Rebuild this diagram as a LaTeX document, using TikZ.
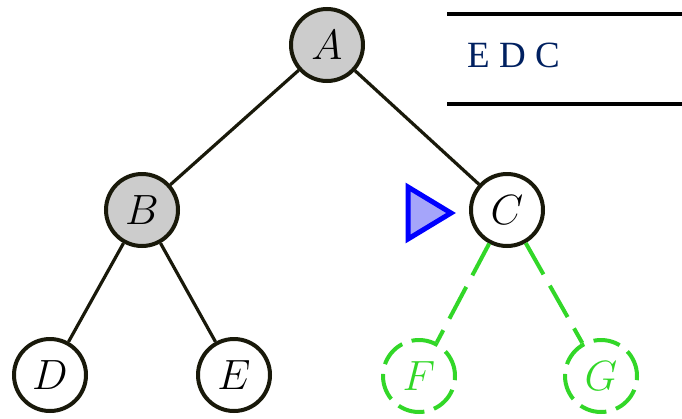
\documentclass[tikz,border=0pt]{standalone}
\usepackage{graphicx}
\usepackage{fontspec}
\newfontfamily\stackfont{Liberation Serif}
\usetikzlibrary{positioning}
\definecolor{navy}{RGB}{0,32,96}
\definecolor{lime}{RGB}{50,215,40}
\definecolor{trifill}{RGB}{165,165,250}
\definecolor{ink}{RGB}{25,25,10}
\newcommand{\vlabel}[1]{\scalebox{1.7}{$#1$}}

\begin{document}
\begin{tikzpicture}[x=1pt,y=-1pt,
    vertex/.style={circle,draw=ink,line width=4pt,minimum size=72pt,inner sep=0pt,font=\Huge},
    visited/.style={vertex,fill=gray!40},
    pending/.style={vertex,draw=lime,text=lime,dash pattern=on 27pt off 10pt},
    edge/.style={draw=ink,line width=3.2pt},
    newedge/.style={draw=lime,line width=4pt,dash pattern=on 36pt off 13pt}]
    \useasboundingbox (0,0) rectangle (682,418);
	  % tree
	  \node[visited] (A) at (327,45) {\vlabel{A}};
	  \node[visited] (B) at (142,210) {\vlabel{B}};
	  \node[vertex] (C) at (507,210) {\vlabel{C}};
	  \node[vertex] (D) at (50,375) {\vlabel{D}};
	  \node[vertex] (E) at (234,375) {\vlabel{E}};
	  \node[pending] (F) at (419,376) {\vlabel{F}};
	  \node[pending] (G) at (601,376) {\vlabel{G}};
	  \draw[edge] (A) -- (B); \draw[edge] (A) -- (C);
	  \draw[edge] (B) -- (D); \draw[edge] (B) -- (E);
	  \draw[newedge] (C) -- (F); \draw[newedge] (C) -- (G);
	  % pointer
	  \draw[blue,line width=5pt,fill=trifill] (408,187) -- (408,239) -- (451,213) -- cycle;
	  % stack
	  \draw[line width=4pt] (447,14) -- (682,14);
	  \draw[line width=4pt] (447,104) -- (682,104);
	  \node[anchor=base west,inner sep=0pt,text=navy,font=\stackfont\fontsize{37}{44}\selectfont] (stack) at (467,67) {E D C};
\end{tikzpicture}
\end{document}
